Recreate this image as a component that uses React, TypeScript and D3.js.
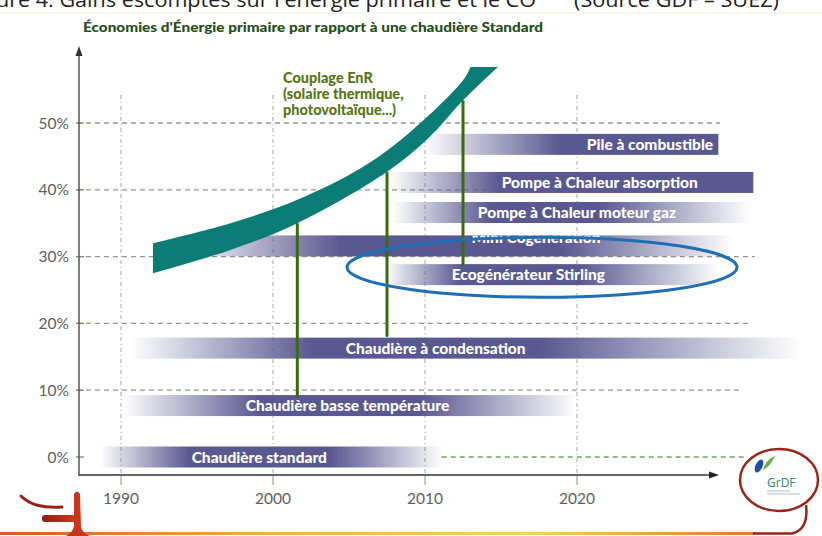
import React from "react";
import * as d3 from "d3";

// ---------- data ----------
const captionLeft = "ure 4. Gains escomptés sur l'énergie primaire et le CO";
const captionRight = "(Source GDF – SUEZ)";
const title = "Économies d'Énergie primaire par rapport à une  chaudière Standard";

const yearTicks = [1990, 2000, 2010, 2020];
const pctTicks = [0, 10, 20, 30, 40, 50];
const gridStartYear = [2011.1, 1987.1, 1987.1, 1987.1, 1987.1, 1987.1];
const gridEndYear = [2031.2, 2030.9, 2031.4, 2031.7, 2031.4, 2029.4];

const techNames = [
  "Chaudière standard",
  "Chaudière basse température",
  "Chaudière à condensation",
  "Ecogénérateur Stirling",
  "Mini Cogeneration",
  "Pompe à Chaleur moteur gaz",
  "Pompe à Chaleur absorption",
  "Pile à combustible",
];
const techPct = [0, 7.7, 16.3, 27.3, 31.6, 36.6, 41.1, 46.8];
const techStart = [1988.6, 1990.1, 1990.6, 2007.4, 1993.9, 2007.9, 2007.7, 2009.9];
const techFull = [1994.5, 1999.1, 2002.6, 2012.3, 2004.4, 2014.3, 2014.9, 2018.9];
const techFade = [2003.8, 2009.7, 2017.6, 2020.2, 2019.0, 2021.5, 2031.6, 2029.3];
const techEnd = [2011.2, 2020.0, 2034.7, 2029.4, 2030.3, 2031.4, 2031.6, 2029.3];
const techLabelYear = [1999.1, 2004.9, 2010.7, 2016.8, 2017.3, 2020.0, 2021.5, 2024.8];

const enrUpperYears = [1992.1, 1997.2, 2001.6, 2005.9, 2009.2, 2012.5, 2013.0];
const enrUpperPct = [32.0, 35.0, 38.5, 43.4, 49.0, 56.4, 58.4];
const enrLowerYears = [1992.1, 1997.2, 2001.6, 2007.5, 2010.3, 2012.5, 2014.8];
const enrLowerPct = [27.5, 31.0, 35.0, 42.7, 47.9, 53.4, 58.4];
const enrLabel = ["Couplage EnR", "(solaire thermique,", "photovoltaïque...)"];

const linkYears = [2001.6, 2007.5, 2012.5];
const linkFromPct = [9.0, 18.0, 28.6];
const linkToPct = [35.0, 42.7, 53.4];

const highlightYear = 2017.7;
const highlightPct = 28.4;

// ---------- component ----------
export default function App() {
  const W = 822;
  const H = 536;
  const x = d3.scaleLinear().domain([1990, 2020]).range([121, 577]);
  const y = d3.scaleLinear().domain([0, 50]).range([457, 123]);
  const purple = "#5a5890";
  const barH = 21;
  const axisX = 79;
  const axisY = 475;

  const upper = enrUpperYears.map((yr, i) => [x(yr), y(enrUpperPct[i])] as [number, number]);
  const lower = enrLowerYears.map((yr, i) => [x(yr), y(enrLowerPct[i])] as [number, number]).reverse();
  const line = d3.line().curve(d3.curveCatmullRom.alpha(0.5));
  const up = line(upper) || "";
  const lo = (line(lower) || "").replace(/^M/, "L");
  const bandPath = up + lo + "Z";

  const font = "Lato, 'Open Sans', sans-serif";

  return (
    <svg width={W} height={H} style={{ position: "absolute", left: 0, top: 0, background: "#fff" }}>
      <defs>
        {techNames.map((n, i) => {
          const x0 = x(techStart[i]);
          const x1 = x(techEnd[i]);
          const span = x1 - x0;
          const f = (x(techFull[i]) - x0) / span;
          const g = (x(techFade[i]) - x0) / span;
          return (
            <linearGradient key={n} id={`g${i}`} gradientUnits="userSpaceOnUse" x1={x0} x2={x1} y1={0} y2={0}>
              <stop offset={0} stopColor={purple} stopOpacity={0} />
              <stop offset={f} stopColor={purple} stopOpacity={1} />
              <stop offset={Math.min(g, 1)} stopColor={purple} stopOpacity={1} />
              <stop offset={1} stopColor={purple} stopOpacity={g >= 0.999 ? 1 : 0} />
            </linearGradient>
          );
        })}
        {techNames.map((n, i) => (
          <clipPath key={"c" + n} id={`c${i}`}>
            <rect x={x(techStart[i])} y={y(techPct[i]) - barH / 2} width={x(techEnd[i]) - x(techStart[i])} height={barH} />
          </clipPath>
        ))}
        <linearGradient id="bottomLine" x1="0" x2="1" y1="0" y2="0">
          <stop offset="0" stopColor="#d8562a" />
          <stop offset="0.35" stopColor="#f0b040" />
          <stop offset="0.7" stopColor="#f3d35a" />
          <stop offset="1" stopColor="#e07a30" />
        </linearGradient>
        <linearGradient id="hook" x1="0" x2="1" y1="0" y2="0">
          <stop offset="0" stopColor="#8e1a14" />
          <stop offset="1" stopColor="#d8401c" />
        </linearGradient>
      </defs>

      {/* caption (cut at top, as in the source) */}
      <text x={-4} y={7} fontFamily="'Open Sans', sans-serif" fontSize={20} fill="#222" textLength={540} lengthAdjust="spacingAndGlyphs">
        {captionLeft}
      </text>
      <text x={574} y={7} fontFamily="'Open Sans', sans-serif" fontSize={20} fill="#222" textLength={205} lengthAdjust="spacingAndGlyphs">
        {captionRight}
      </text>
      <line x1={0} x2={W} y1={13} y2={13} stroke="#eef2dc" strokeWidth={1} />

      {/* title */}
      <text x={83} y={32} fontFamily={font} fontWeight={900} fontSize={13.5} fill="#244f18" textLength={460} lengthAdjust="spacingAndGlyphs">
        {title}
      </text>

      {/* vertical grid */}
      {yearTicks.map((yr) => (
        <g key={"vy" + yr}>
          <line x1={x(yr)} x2={x(yr)} y1={95} y2={axisY} stroke="#a0a898" strokeWidth={1} strokeDasharray="4,3,1,3" />
          <line x1={x(yr)} x2={x(yr)} y1={axisY} y2={485} stroke="#7aa060" strokeWidth={1} />
        </g>
      ))}

      {/* horizontal grid */}
      {pctTicks.map((p, i) => (
        <line
          key={"hg" + p}
          x1={x(gridStartYear[i])}
          x2={x(gridEndYear[i])}
          y1={y(p)}
          y2={y(p)}
          stroke={p === 0 ? "#7aa060" : "#8f9a88"}
          strokeWidth={1.3}
          strokeDasharray="5,4"
        />
      ))}
      {pctTicks.map((p) => (
        <line key={"tk" + p} x1={76} x2={84} y1={y(p)} y2={y(p)} stroke="#7a9070" strokeWidth={1.3} />
      ))}

      {/* technology bars */}
      {techNames.map((n, i) => {
        const cy = y(techPct[i]);
        return (
          <g key={"b" + n}>
            <rect x={x(techStart[i])} y={cy - barH / 2} width={x(techEnd[i]) - x(techStart[i])} height={barH} fill={`url(#g${i})`} />
            <text
              x={x(techLabelYear[i])}
              y={n === "Mini Cogeneration" ? cy - 3 : cy + 5.5}
              textAnchor="middle"
              fontFamily={font}
              fontWeight={900}
              fontSize={15.5}
              fill="#fff"
              clipPath={`url(#c${i})`}
            >
              {n}
            </text>
          </g>
        );
      })}

      {/* EnR band */}
      <path d={bandPath} fill="#0b7c76" />
      {enrLabel.map((t, i) => (
        <text key={t} x={283} y={83 + i * 16} fontFamily={font} fontWeight={900} fontSize={14.5} fill="#567616">
          {t}
        </text>
      ))}

      {/* links */}
      {linkYears.map((yr, i) => (
        <line key={"l" + yr} x1={x(yr)} x2={x(yr)} y1={y(linkFromPct[i])} y2={y(linkToPct[i])} stroke="#3b6a10" strokeWidth={3} />
      ))}

      {/* axes */}
      <line x1={axisX} x2={axisX} y1={54} y2={axisY + 1} stroke="#555" strokeWidth={1.5} />
      <path d={`M${axisX},46 L${axisX - 3.5},56 L${axisX + 3.5},56 Z`} fill="#333" />
      <line x1={axisX} x2={712} y1={axisY} y2={axisY} stroke="#333" strokeWidth={1.5} />
      <path d={`M719,${axisY} L709,${axisY - 3.5} L709,${axisY + 3.5} Z`} fill="#222" />

      {pctTicks.map((p) => (
        <text key={"yl" + p} x={69} y={y(p) + 5.5} textAnchor="end" fontFamily={font} fontSize={15.5} fill="#606060">
          {p}%
        </text>
      ))}
      {yearTicks.map((yr) => (
        <text key={"xl" + yr} x={x(yr)} y={504} textAnchor="middle" fontFamily={font} fontSize={15.5} fill="#606060">
          {yr}
        </text>
      ))}

      {/* highlight ellipse */}
      <ellipse cx={x(highlightYear)} cy={y(highlightPct)} rx={195} ry={30} fill="none" stroke="#1f6fb5" strokeWidth={3} />

      {/* bottom decoration */}
      <rect x={0} y={532} width={755} height={3} fill="url(#bottomLine)" />
      <path d="M753,533.5 L792,533.5 C803,531 808,522 806,505" fill="none" stroke="#9c2318" strokeWidth={2.5} />
      <ellipse cx={779} cy={480} rx={39} ry={31} fill="none" stroke="#9c2318" strokeWidth={2.5} />
      <ellipse cx={759} cy={466} rx={3.5} ry={7} transform="rotate(25 759 466)" fill="#1f4fa0" />
      <path d="M763,470 C765,462 770,458 775,456 C772,462 769,467 763,470 Z" fill="#6ab04a" />
      <text x={767} y={487} fontFamily="'Open Sans', sans-serif" fontSize={12} fill="#2e8a6c">GrDF</text>
      <line x1={767} x2={790} y1={491} y2={491} stroke="#9ab" strokeWidth={0.8} />
      <line x1={767} x2={800} y1={494} y2={494} stroke="#9ab" strokeWidth={0.8} />

      {/* hook logo bottom-left */}
      <path d="M21,496 C30,505 42,508 62,507" fill="none" stroke="#9a1f16" strokeWidth={3} strokeLinecap="round" />
      <rect x={42} y={515} width={38} height={7} rx={3} fill="url(#hook)" />
      <path d="M74,494 Q77,489 80,494 L81,528 Q84,534 90,536 L66,536 Q73,532 74,526 Z" fill="#c8341c" />
    </svg>
  );
}
